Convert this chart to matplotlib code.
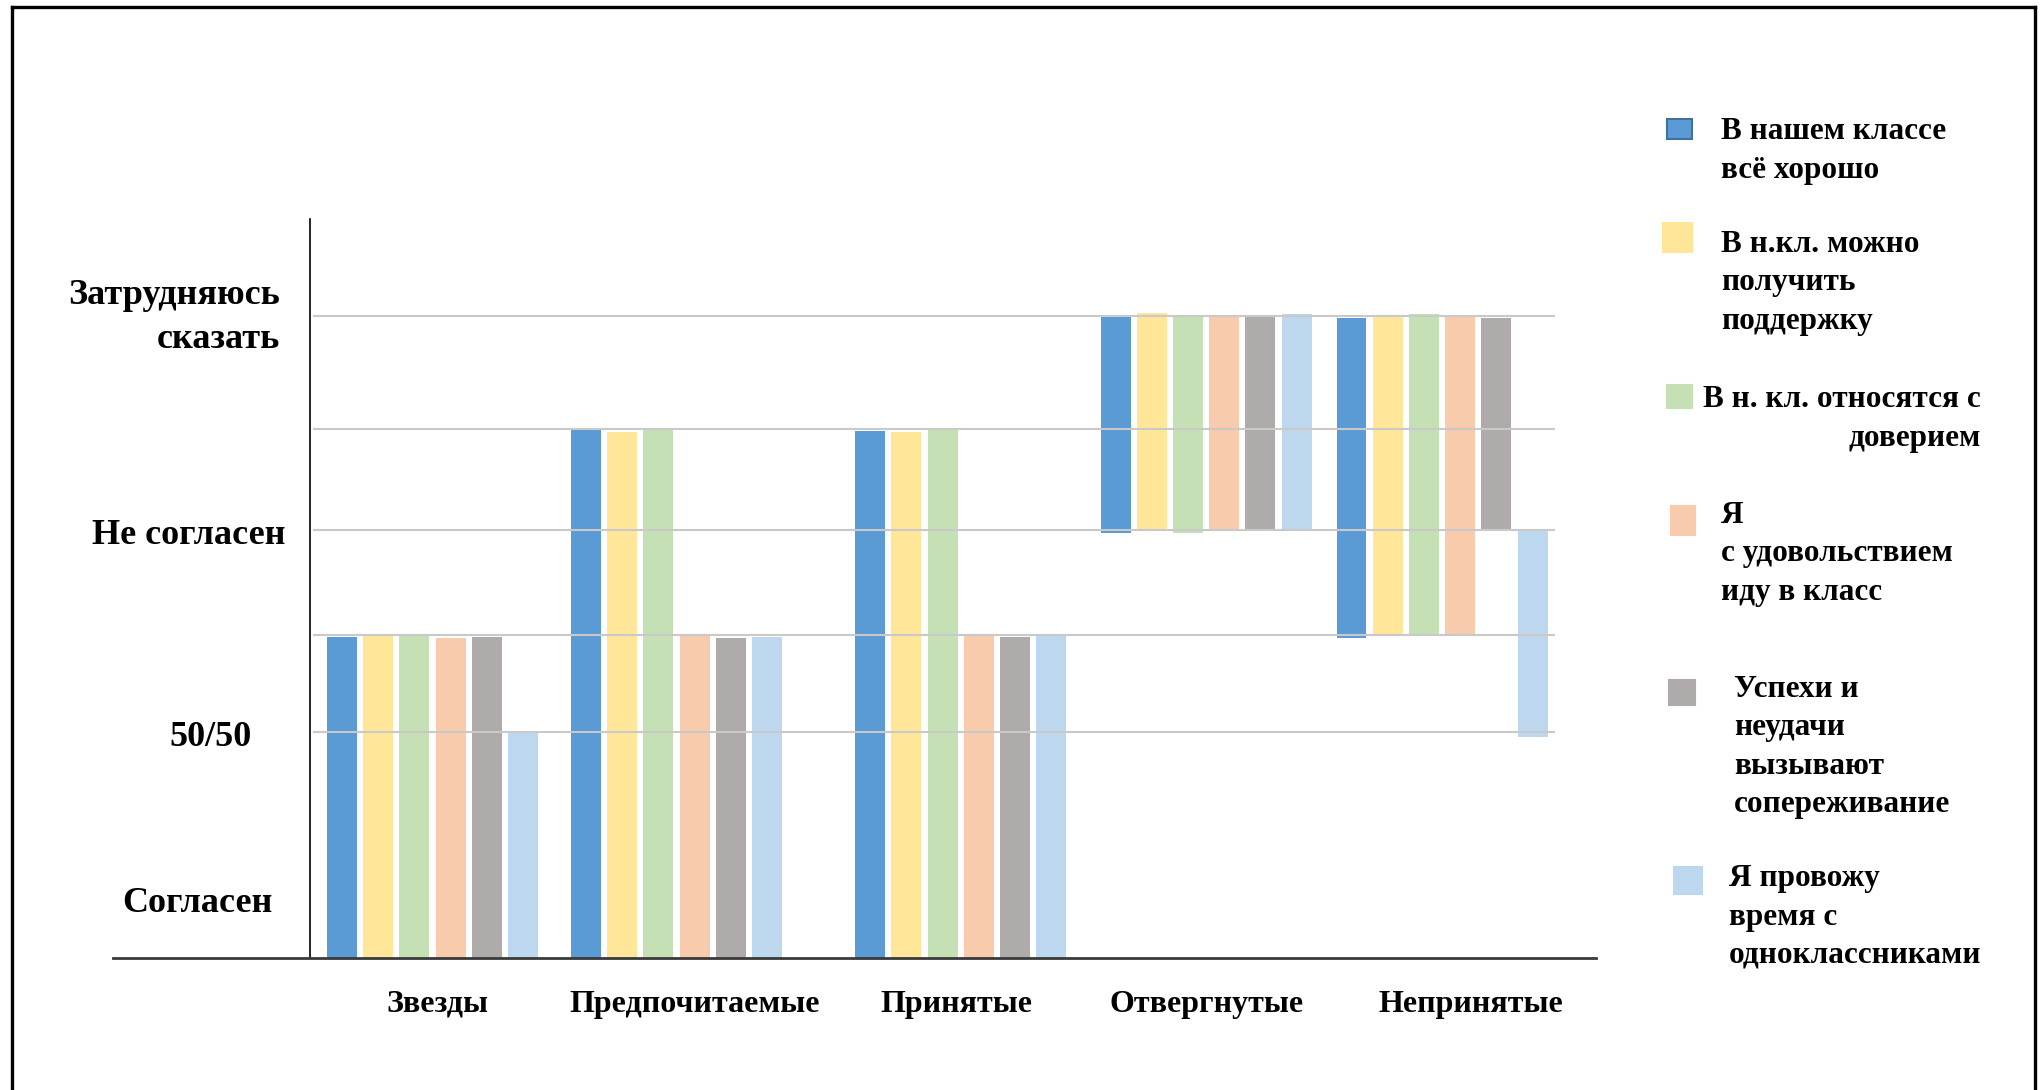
import matplotlib
matplotlib.use("Agg")
from matplotlib import pyplot as plt
from matplotlib import transforms
from matplotlib.lines import Line2D
from matplotlib.patches import Rectangle

plt.rcParams["font.family"] = ["Liberation Serif", "DejaVu Serif"]
plt.rcParams["font.weight"] = "bold"

# --- data -------------------------------------------------------------
groups = ["Звезды", "Предпочитаемые", "Принятые", "Отвергнутые", "Непринятые"]

series_names = [
    "В нашем классе\nвсё хорошо",
    "В н.кл. можно\nполучить\nподдержку",
    "В н. кл. относятся с\nдоверием",
    "Я\nс удовольствием\nиду в класс",
    "Успехи и\nнеудачи\nвызывают\nсопереживание",
    "Я провожу\nвремя с\nодноклассниками",
]

# answer scale (arbitrary units)
level_labels = ["Согласен", "50/50", "Не согласен", "Затрудняюсь\nсказать"]
level_pos = [0.58, 2.24, 4.26, 6.50]
grid_levels = [2.26, 3.23, 4.28, 5.29, 6.42]

# floating bars: bottom / top per group
blue_bottom = [0, 0, 0, 4.25, 3.20]
blue_top = [3.21, 5.28, 5.27, 6.41, 6.40]
yellow_bottom = [0, 0, 0, 4.27, 3.22]
yellow_top = [3.22, 5.26, 5.26, 6.45, 6.43]
green_bottom = [0, 0, 0, 4.25, 3.23]
green_top = [3.22, 5.28, 5.28, 6.43, 6.44]
peach_bottom = [0, 0, 0, 4.29, 3.22]
peach_top = [3.20, 3.23, 3.24, 6.41, 6.43]
gray_bottom = [0, 0, 0, 4.29, 4.27]
gray_top = [3.21, 3.20, 3.21, 6.43, 6.40]
lblue_bottom = [0, 0, 0, 4.27, 2.21]
lblue_top = [2.26, 3.21, 3.23, 6.44, 4.27]

bottoms = [blue_bottom, yellow_bottom, green_bottom, peach_bottom, gray_bottom, lblue_bottom]
tops = [blue_top, yellow_top, green_top, peach_top, gray_top, lblue_top]

colors = ["#5B9BD5", "#FFE699", "#C5E0B4", "#F8CBAD", "#AFABAB", "#BDD7EE"]

# --- layout -----------------------------------------------------------
W, H = 2044, 1090
group_x = [0, 0.968, 2.096, 3.07, 4.006]
label_x = [0.02, 1.04, 2.08, 3.07, 4.12]
ylabel_shift_px = [1, 14, -7, -22]
bar_step = 0.1437
bar_w = 0.119


def fx(px):
    return px / W


def fy(py):
    return 1 - py / H


fig = plt.figure(figsize=(W / 100, H / 100), dpi=100)
ax = fig.add_axes([fx(113), fy(958), fx(1596) - fx(113), fy(219) - fy(958)])
ax.set_xlim(-1.268, 4.617)
ax.set_ylim(0, 7.39)

for k, (b, t) in enumerate(zip(bottoms, tops)):
    xs = [g + (k - 2.5) * bar_step for g in group_x]
    heights = [hi - lo for lo, hi in zip(b, t)]
    ax.bar(xs, heights, bottom=b, width=bar_w, color=colors[k], zorder=2)

ax.hlines(grid_levels, -0.475, 4.454, color="#c9c9c9", lw=1.5, zorder=3)

for side in ("top", "right"):
    ax.spines[side].set_visible(False)
ax.spines["left"].set_position(("data", -0.486))
ax.spines["left"].set_color("black")
ax.spines["left"].set_linewidth(1.2)
ax.spines["bottom"].set_color("#3a3a3a")
ax.spines["bottom"].set_linewidth(2)

ax.set_xticks(label_x)
ax.set_xticklabels(groups, fontsize=23, fontweight="bold")
ax.tick_params(axis="x", length=0, pad=23)

ax.set_yticks(level_pos)
ax.set_yticklabels(level_labels, fontsize=26, fontweight="bold")
ax.tick_params(axis="y", length=0, pad=82)
for lab, dx in zip(ax.get_yticklabels(), ylabel_shift_px):
    lab.set_horizontalalignment("center")
    lab.set_multialignment("right")
    lab.set_linespacing(1.45)
    lab.set_transform(lab.get_transform() + transforms.ScaledTranslation(dx / 100, 0, fig.dpi_scale_trans))

# --- legend drawn by hand (irregular layout of the original) -----------
legend_boxes = [
    (1667, 119, 25, 20),
    (1663, 223, 29, 29),
    (1667, 385, 25, 23),
    (1671, 506, 24, 29),
    (1669, 680, 26, 25),
    (1674, 867, 28, 27),
]
legend_text_pos = [
    (1721, 151, "left"),
    (1721, 283, "left"),
    (1981, 419, "right"),
    (1721, 554, "left"),
    (1734, 747, "left"),
    (1729, 917, "left"),
]
for k, ((x0, y0, w, h), (tx, ty, ha)) in enumerate(zip(legend_boxes, legend_text_pos)):
    edge = "#41719C" if k == 0 else colors[k]
    fig.patches.append(Rectangle((fx(x0), fy(y0 + h)), w / W, h / H, transform=fig.transFigure,
                                 facecolor=colors[k], edgecolor=edge, lw=1.5))
    fig.text(fx(tx), fy(ty), series_names[k], ha=ha, va="center", multialignment=ha,
             fontsize=22.5, fontweight="bold", linespacing=1.43)

# outer frame
for xs, ys in [((12, 12), (7, 1090)), ((12, 2035), (7, 7)), ((2035, 2035), (7, 1090))]:
    fig.lines.append(Line2D([fx(x) for x in xs], [fy(y) for y in ys], transform=fig.transFigure,
                            color="black", lw=2.4))

fig.savefig("out.png", dpi=100)
